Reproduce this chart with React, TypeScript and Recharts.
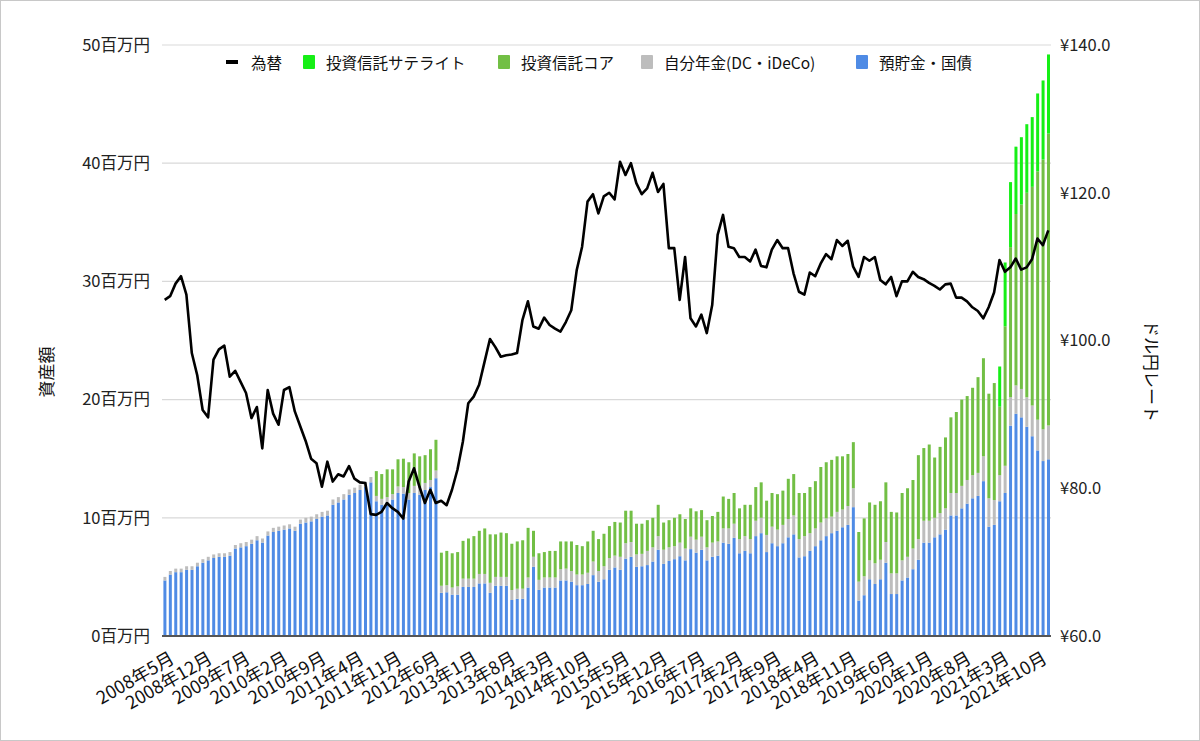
import React from "react"
import { ComposedChart, Bar, Line, XAxis, YAxis, CartesianGrid } from "recharts"

const FONT = '"Noto Sans CJK JP", "Noto Sans", sans-serif'

// first month of the series: 2008年5月, one value per month (百万円)
const startYear = 2008
const startMonth = 5

// 預貯金・国債
const savings = [
  4.7, 5.2, 5.4, 5.4, 5.6, 5.6, 5.9, 6.2,
  6.4, 6.6, 6.7, 6.7, 6.8, 7.4, 7.5, 7.6, 7.8, 8.1, 7.9, 8.5,
  8.8, 8.9, 9.0, 9.1, 8.9, 9.5, 9.6, 9.7, 9.9, 10.1, 10.2, 11.1,
  11.3, 11.55, 11.95, 12.1, 12.35, 12.6, 13.0, 11.4, 11.1, 11.3, 11.55, 12.1,
  12.05, 11.55, 12.1, 11.95, 12.35, 12.6, 13.35, 3.65, 3.7, 3.5, 3.5, 4.15,
  4.15, 4.15, 4.45, 4.45, 3.65, 4.25, 4.25, 4.25, 3.05, 3.15, 3.15, 4.1,
  5.85, 3.9, 4.1, 4.1, 4.1, 4.7, 4.7, 4.6, 4.3, 4.3, 4.4, 5.15,
  4.6, 4.8, 5.6, 5.8, 5.6, 6.55, 6.7, 5.85, 5.9, 6.0, 6.3, 7.3,
  6.1, 6.35, 6.5, 6.75, 6.4, 7.35, 7.05, 7.3, 6.4, 6.7, 6.8, 7.9,
  7.8, 8.3, 7.0, 7.2, 7.0, 8.45, 8.7, 7.1, 7.85, 7.6, 7.85, 8.35,
  8.6, 6.65, 6.75, 7.2, 7.6, 8.1, 8.45, 8.7, 8.9, 9.2, 9.4, 10.9,
  3.0, 3.45, 4.8, 4.4, 4.8, 6.2, 3.55, 3.55, 4.7, 4.95, 5.65, 6.45,
  7.9, 7.9, 8.35, 8.6, 9.0, 10.2, 10.2, 10.8, 11.2, 11.65, 11.85, 13.1,
  9.25, 9.4, 11.4, 12.1, 17.8, 18.8, 18.5, 17.7, 16.9, 15.7, 14.8, 14.95,
]

// 自分年金(DC・iDeCo)
const pension = [
  0.3, 0.3, 0.3, 0.3, 0.3, 0.3, 0.3, 0.3,
  0.3, 0.3, 0.3, 0.3, 0.3, 0.3, 0.35, 0.35, 0.35, 0.35, 0.35, 0.35,
  0.35, 0.35, 0.35, 0.35, 0.35, 0.35, 0.4, 0.4, 0.4, 0.4, 0.4, 0.45,
  0.45, 0.45, 0.45, 0.45, 0.45, 0.45, 0.45, 0.45, 0.5, 0.45, 0.45, 0.55,
  0.55, 0.55, 0.6, 0.6, 0.6, 0.6, 0.65, 0.6, 0.6, 0.6, 0.7, 0.7,
  0.7, 0.7, 0.8, 0.8, 0.85, 0.75, 0.75, 0.75, 0.85, 0.85, 0.85, 0.85,
  0.85, 0.85, 0.85, 0.85, 0.85, 0.95, 1.0, 0.9, 0.9, 0.9, 0.95, 1.15,
  0.9, 1.1, 1.0, 1.0, 1.1, 1.3, 1.25, 1.05, 1.05, 1.2, 1.2, 1.15,
  1.2, 1.15, 1.1, 1.15, 1.0, 1.05, 1.1, 1.1, 1.1, 1.2, 1.2, 1.2,
  1.3, 1.2, 1.2, 1.25, 1.2, 1.3, 1.3, 1.45, 1.4, 1.4, 1.55, 1.55,
  1.6, 1.55, 1.7, 1.5, 1.5, 1.5, 1.5, 1.4, 1.6, 1.5, 1.6, 1.6,
  1.6, 1.6, 1.6, 1.75, 1.65, 1.75, 1.75, 1.75, 1.7, 1.75, 1.75, 1.75,
  1.85, 1.85, 1.65, 1.8, 1.8, 1.9, 1.9, 1.9, 2.0, 1.95, 1.95, 2.1,
  2.4, 2.1, 2.2, 2.3, 2.4, 2.4, 2.4, 2.5, 2.6, 2.6, 2.7, 2.85,
]

// 投資信託コア
const fundCore = [
  0, 0, 0, 0, 0, 0, 0, 0,
  0, 0, 0, 0, 0, 0, 0, 0, 0, 0, 0, 0,
  0, 0, 0, 0, 0, 0, 0, 0, 0, 0, 0, 0,
  0, 0, 0, 0, 0, 0, 0, 2.1, 2.1, 2.35, 2.1, 2.3,
  2.4, 2.6, 2.75, 2.65, 2.35, 2.6, 2.6, 2.8, 2.9, 2.9, 2.9, 3.2,
  3.4, 3.6, 3.65, 3.85, 4.1, 3.6, 3.75, 3.7, 3.9, 4.0, 4.1, 4.2,
  2.2, 2.25, 2.15, 2.25, 2.25, 2.35, 2.3, 2.5, 2.5, 2.4, 2.65, 2.6,
  2.7, 2.75, 2.7, 2.85, 2.9, 2.75, 2.65, 2.6, 2.55, 2.6, 2.5, 2.65,
  2.3, 2.3, 2.4, 2.4, 2.5, 2.4, 2.4, 2.25, 2.3, 2.25, 2.5, 2.7,
  2.5, 2.6, 2.6, 2.65, 2.9, 2.85, 3.0, 2.9, 2.85, 3.0, 2.9, 3.4,
  3.5, 3.9, 3.65, 3.9, 4.0, 4.7, 4.75, 4.8, 4.7, 4.5, 4.4, 3.9,
  4.2, 4.9, 4.9, 4.95, 4.95, 5.05, 5.2, 5.15, 5.7, 5.8, 5.8, 7.1,
  6.15, 6.45, 5.1, 5.6, 6.0, 6.4, 6.85, 7.3, 7.1, 7.4, 8.1, 8.3,
  8.85, 9.9, 5.8, 11.8, 12.7, 14.5, 15.6, 17.3, 18.5, 21.0, 22.8, 24.7,
]

// 投資信託サテライト
const fundSatellite = [
  0, 0, 0, 0, 0, 0, 0, 0,
  0, 0, 0, 0, 0, 0, 0, 0, 0, 0, 0, 0,
  0, 0, 0, 0, 0, 0, 0, 0, 0, 0, 0, 0,
  0, 0, 0, 0, 0, 0, 0, 0, 0, 0, 0, 0,
  0, 0, 0, 0, 0, 0, 0, 0, 0, 0, 0, 0,
  0, 0, 0, 0, 0, 0, 0, 0, 0, 0, 0, 0,
  0, 0, 0, 0, 0, 0, 0, 0, 0, 0, 0, 0,
  0, 0, 0, 0, 0, 0, 0, 0, 0, 0, 0, 0,
  0, 0, 0, 0, 0, 0, 0, 0, 0, 0, 0, 0,
  0, 0, 0, 0, 0, 0, 0, 0, 0, 0, 0, 0,
  0, 0, 0, 0, 0, 0, 0, 0, 0, 0, 0, 0,
  0, 0, 0, 0, 0, 0, 0, 0, 0, 0, 0, 0,
  0, 0, 0, 0, 0, 0, 0, 0, 0, 0, 0, 0,
  0, 0, 3.4, 5.4, 5.5, 5.7, 5.7, 5.8, 5.9, 6.6, 6.7, 6.7,
]

// 為替 (ドル円)
const usdJpy = [
  105.5, 106.0, 107.7, 108.7, 106.2, 98.3, 95.3, 90.6,
  89.6, 97.4, 98.8, 99.3, 95.1, 95.9, 94.4, 92.9, 89.5, 91.0, 85.4, 93.3,
  90.1, 88.6, 93.3, 93.7, 90.4, 88.4, 86.4, 84.0, 83.4, 80.2, 83.6, 80.9,
  81.9, 81.6, 83.0, 81.3, 80.8, 80.7, 76.5, 76.4, 76.8, 78.0, 77.3, 76.8,
  75.9, 80.9, 82.7, 80.2, 78.0, 79.8, 78.0, 78.3, 77.7, 79.8, 82.5, 86.3,
  91.5, 92.4, 94.0, 97.1, 100.2, 99.1, 97.8, 98.0, 98.1, 98.3, 102.8, 105.3,
  101.9, 101.6, 103.1, 102.1, 101.6, 101.2, 102.5, 104.1, 109.5, 112.7, 118.8, 119.8,
  117.2, 119.5, 120.0, 119.1, 124.2, 122.4, 124.0, 121.3, 119.8, 120.6, 122.7, 120.1,
  121.2, 112.5, 112.5, 105.5, 111.3, 103.0, 101.9, 103.5, 101.0, 104.8, 114.3, 117.0,
  112.7, 112.5, 111.3, 111.3, 110.7, 112.3, 110.1, 109.9, 112.3, 113.6, 112.5, 112.5,
  109.1, 106.6, 106.2, 109.2, 108.7, 110.4, 111.7, 111.0, 113.6, 112.8, 113.5, 110.0,
  108.6, 111.3, 110.8, 111.3, 108.2, 107.6, 108.6, 106.0, 108.0, 108.0, 109.3, 108.6,
  108.3, 107.8, 107.4, 106.9, 107.6, 107.7, 105.8, 105.8, 105.3, 104.5, 104.0, 103.0,
  104.5, 106.5, 110.9, 109.3, 109.9, 111.1, 109.6, 109.9, 111.0, 113.8, 112.9, 114.9,
]

const tickLabels = [
  "2008年5月", "2008年12月", "2009年7月", "2010年2月", "2010年9月", "2011年4月",
  "2011年11月", "2012年6月", "2013年1月", "2013年8月", "2014年3月", "2014年10月",
  "2015年5月", "2015年12月", "2016年7月", "2017年2月", "2017年9月", "2018年4月",
  "2018年11月", "2019年6月", "2020年1月", "2020年8月", "2021年3月", "2021年10月",
]

const leftTicks = [0, 10, 20, 30, 40, 50]
const rightTicks = [60, 80, 100, 120, 140]

const COLORS = {
  savings: "#4f8be5",
  pension: "#bdbdbd",
  core: "#72bf45",
  satellite: "#16ef16",
  rate: "#000000",
}

const months = savings.map((_, i) => {
  const m = startMonth - 1 + i
  return `${startYear + Math.floor(m / 12)}年${(m % 12) + 1}月`
})

const data = months.map((month, i) => ({
  month,
  savings: savings[i],
  pension: pension[i],
  core: fundCore[i],
  satellite: fundSatellite[i],
  rate: usdJpy[i],
}))

const legendItems = [
  { label: "為替", color: COLORS.rate, line: true, left: 225 },
  { label: "投資信託サテライト", color: COLORS.satellite, left: 302 },
  { label: "投資信託コア", color: COLORS.core, left: 497 },
  { label: "自分年金(DC・iDeCo)", color: COLORS.pension, left: 640 },
  { label: "預貯金・国債", color: COLORS.savings, left: 855 },
]

function MonthTick({ x, y, payload }: any) {
  return (
    <g transform={`translate(${x + 11},${y + 26}) rotate(-30)`}>
      <text textAnchor="end" fontSize={18} fill="#111" fontFamily={FONT}>
        {payload.value}
      </text>
    </g>
  )
}

export default function App() {
  return (
    <div
      style={{
        position: "relative",
        width: 1200,
        height: 741,
        boxSizing: "border-box",
        border: "1px solid #c8c8c8",
        background: "#fff",
        fontFamily: FONT,
        overflow: "hidden",
      }}
    >
      <style>{`body { margin: 0; }`}</style>
      <ComposedChart
        width={1200}
        height={741}
        data={data}
        margin={{ top: 45, right: 49, left: 62, bottom: 15 }}
        barCategoryGap="26%"
        style={{ position: "absolute", left: -1, top: -1 }}
      >
        <CartesianGrid yAxisId="left" vertical={false} stroke="#d9d9d9" strokeWidth={1.2} />
        <XAxis
          dataKey="month"
          ticks={tickLabels}
          interval={0}
          height={90}
          tickLine={false}
          tickSize={0}
          tickMargin={0}
          axisLine={{ stroke: "#555", strokeWidth: 2 }}
          tick={<MonthTick />}
        />
        <YAxis
          yAxisId="left"
          domain={[0, 50]}
          ticks={leftTicks}
          width={100}
          axisLine={false}
          tickLine={false}
          tickSize={0}
          tickMargin={12}
          tick={{ fill: "#222", fontSize: 16.5, fontFamily: FONT }}
          tickFormatter={(v) => `${v}百万円`}
        />
        <YAxis
          yAxisId="right"
          orientation="right"
          domain={[60, 140]}
          ticks={rightTicks}
          width={100}
          axisLine={false}
          tickLine={false}
          tickSize={0}
          tickMargin={9}
          tick={{ fill: "#222", fontSize: 16.5, fontFamily: FONT }}
          tickFormatter={(v) => `¥${Number(v).toFixed(1)}`}
        />
        <Bar yAxisId="left" dataKey="savings" stackId="a" fill={COLORS.savings} isAnimationActive={false} />
        <Bar yAxisId="left" dataKey="pension" stackId="a" fill={COLORS.pension} isAnimationActive={false} />
        <Bar yAxisId="left" dataKey="core" stackId="a" fill={COLORS.core} isAnimationActive={false} />
        <Bar yAxisId="left" dataKey="satellite" stackId="a" fill={COLORS.satellite} isAnimationActive={false} />
        <Line
          yAxisId="right"
          dataKey="rate"
          type="linear"
          stroke={COLORS.rate}
          strokeWidth={2.6}
          dot={false}
          strokeLinejoin="round"
          isAnimationActive={false}
        />
      </ComposedChart>

      {legendItems.map((item) => (
        <div
          key={item.label}
          style={{
            position: "absolute",
            left: item.left,
            top: 50,
            height: 22,
            display: "flex",
            alignItems: "center",
            whiteSpace: "nowrap",
            fontSize: 15.5,
            color: "#111",
          }}
        >
          {item.line ? (
            <span style={{ display: "inline-block", width: 12, height: 4, background: item.color, marginRight: 13 }} />
          ) : (
            <span style={{ display: "inline-block", width: 12, height: 14, background: item.color, borderRadius: 1, marginRight: 11 }} />
          )}
          <span>{item.label}</span>
        </div>
      ))}

      <div
        style={{
          position: "absolute",
          left: 44,
          top: 371,
          transform: "translate(-50%, -50%) rotate(-90deg)",
          fontSize: 17,
          color: "#111",
          whiteSpace: "nowrap",
        }}
      >
        資産額
      </div>
      <div
        style={{
          position: "absolute",
          left: 1151,
          top: 370,
          transform: "translate(-50%, -50%) rotate(90deg)",
          fontSize: 17,
          color: "#111",
          whiteSpace: "nowrap",
        }}
      >
        ドル円レート
      </div>
    </div>
  )
}
